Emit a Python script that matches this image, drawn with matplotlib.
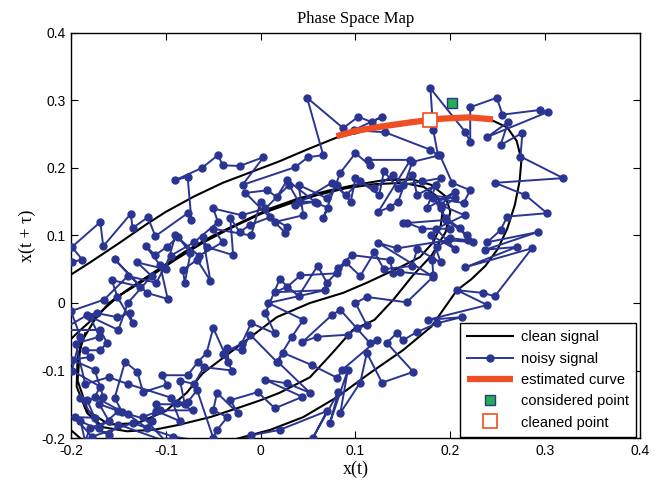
import numpy as np
import matplotlib
matplotlib.use("Agg")
import matplotlib.pyplot as plt

# clean signal (three turns, parts outside the box are clipped by the axes)
clean_x = [-0.215, -0.200, -0.180, -0.150, -0.120, -0.100, -0.070, -0.040, -0.010, 0.020, 0.050, 0.080,
           0.110, 0.140, 0.170, 0.200, 0.225, 0.245, 0.260, 0.270, 0.275, 0.273, 0.268, 0.260, 0.250,
           0.237, 0.222, 0.207, 0.195, 0.180, 0.150, 0.115, 0.081, 0.045, 0.010, -0.030, -0.060,
           -0.100, -0.170, -0.215, -0.220, -0.205,
           -0.190, -0.166, -0.150, -0.120, -0.090, -0.060, -0.030, 0.000, 0.030, 0.060, 0.090, 0.120,
           0.150, 0.172, 0.186, 0.192, 0.190, 0.182, 0.168, 0.147, 0.112, 0.087, 0.052, 0.017, -0.029,
           -0.061, -0.078, -0.100, -0.130, -0.160, -0.182, -0.193, -0.190, -0.175, -0.160,
           -0.140, -0.110, -0.080, -0.050, -0.020, 0.010, 0.040, 0.070, 0.100, 0.130, 0.160, 0.180,
           0.195, 0.200, 0.195, 0.180, 0.160, 0.140, 0.120, 0.097, 0.075, 0.052, 0.020, 0.000, -0.025,
           -0.053, -0.088, -0.113, -0.141, -0.166, -0.183, -0.194, -0.193, -0.185]
clean_y = [0.030, 0.042, 0.060, 0.088, 0.117, 0.135, 0.158, 0.178, 0.194, 0.210, 0.228, 0.245,
           0.255, 0.262, 0.268, 0.272, 0.273, 0.270, 0.260, 0.240, 0.212, 0.180, 0.145, 0.110, 0.080,
           0.055, 0.035, 0.019, -0.005, -0.035, -0.070, -0.104, -0.139, -0.169, -0.188, -0.203, -0.215,
           -0.230, -0.225, -0.170, -0.080, -0.060,
           -0.040, -0.010, 0.010, 0.036, 0.064, 0.090, 0.112, 0.132, 0.147, 0.160, 0.170, 0.176,
           0.178, 0.172, 0.158, 0.138, 0.115, 0.090, 0.068, 0.053, 0.030, 0.015, 0.000, -0.021, -0.070,
           -0.104, -0.133, -0.160, -0.178, -0.180, -0.160, -0.115, -0.060, -0.025, 0.000,
           0.020, 0.048, 0.076, 0.100, 0.120, 0.140, 0.155, 0.166, 0.175, 0.182, 0.183, 0.175,
           0.158, 0.135, 0.105, 0.070, 0.040, 0.005, -0.025, -0.040, -0.075, -0.110, -0.133, -0.144, -0.156,
           -0.169, -0.181, -0.188, -0.190, -0.184, -0.163, -0.124, -0.080, -0.045]

# noisy signal, read point by point
noisy_x = [-0.199, -0.188, -0.199, -0.169, -0.166, -0.137, -0.135, -0.119, -0.111, -0.077, -0.073, -0.077,
           -0.090, -0.062, -0.045, -0.040, -0.022, 0.003, -0.019, 0.036, 0.050, 0.066, 0.049, 0.087,
           0.103, 0.117, 0.128, 0.098, 0.131, 0.179, 0.187, 0.182, 0.179, 0.216, 0.221, 0.221, 0.249,
           0.255, 0.295, 0.303, 0.239, 0.261, 0.253, 0.276, 0.274, 0.319, 0.247, 0.279, 0.302, 0.260,
           0.253, 0.239, 0.292, 0.237, 0.270, 0.216, 0.286, 0.247, 0.234, 0.207, 0.239, 0.176, 0.212,
           0.186, 0.165, 0.150, 0.144, 0.133, 0.161, 0.128, 0.112, 0.105, 0.084, 0.092, 0.073, 0.082,
           0.055, 0.070, 0.020, -0.010, -0.030,
           -0.092, -0.135, -0.178, -0.196, -0.175, -0.183, -0.166, -0.175, -0.199, -0.180, -0.185,
           -0.169, -0.162, -0.169, -0.210, -0.183, -0.173, -0.151, -0.138, -0.135, -0.151, -0.157,
           -0.127, -0.154, -0.120, -0.098, -0.106, -0.121, -0.111, -0.099, -0.087, -0.074, -0.080,
           -0.082, -0.067, -0.053, -0.061, -0.057, -0.029, -0.032, -0.022, -0.011, 0.010, 0.028, 0.026,
           -0.016, 0.007, 0.017, 0.028, 0.059, 0.071, 0.066, 0.084, 0.100, 0.115, 0.113, 0.158, 0.124,
           0.136, 0.145, 0.160, 0.189, 0.202, 0.221, 0.214, 0.182, 0.195, 0.210, 0.219, 0.200, 0.186,
           0.181, 0.182, 0.147, 0.140, 0.136, 0.096, 0.082, 0.081, 0.042, 0.028, 0.015, 0.068, 0.008,
           0.045, 0.033, 0.017, -0.011, -0.020, -0.035, -0.034, -0.050, -0.057, -0.066, -0.077, -0.104,
           -0.099, -0.124, -0.130, -0.143, -0.154, -0.146, -0.175, -0.169, -0.199,
           -0.190, -0.200, -0.165, -0.140, -0.110, -0.095, -0.070, -0.045, -0.050, -0.020, 0.005, 0.030,
           0.040, 0.057, 0.036, 0.075, 0.090, 0.105, 0.120, 0.140, 0.150, 0.170, 0.190, 0.175, 0.205,
           0.190, 0.200, 0.170, 0.154, 0.150, 0.195, 0.218, 0.224, 0.198, 0.144, 0.124, 0.182, 0.154,
           0.112, 0.100, 0.112, 0.102, 0.092, 0.059, 0.044, 0.075, 0.084, 0.115, 0.123, 0.086, 0.081,
           0.054, 0.024, 0.018, 0.052, 0.028, 0.005, 0.044, 0.015, -0.003, -0.032, -0.024, -0.046,
           -0.050, -0.035, -0.046, -0.050, -0.067, -0.077, -0.088, -0.071, -0.106, -0.124, -0.100,
           -0.150, -0.160, -0.190, -0.185]
noisy_y = [0.061, 0.064, 0.083, 0.120, 0.084, 0.132, 0.111, 0.127, 0.099, 0.133, 0.123, 0.187,
           0.182, 0.200, 0.219, 0.204, 0.203, 0.216, 0.175, 0.201, 0.216, 0.219, 0.304, 0.259,
           0.276, 0.268, 0.276, 0.256, 0.253, 0.227, 0.219, 0.256, 0.318, 0.253, 0.239, 0.290, 0.304,
           0.279, 0.286, 0.283, 0.246, 0.268, 0.234, 0.252, 0.217, 0.185, 0.178, 0.160, 0.133, 0.128,
           0.108, 0.090, 0.105, 0.079, 0.083, 0.053, 0.081, 0.010, 0.015, 0.019, -0.003, -0.025, -0.021,
           -0.030, -0.043, -0.055, -0.044, -0.059, -0.102, -0.118, -0.074, -0.118, -0.163, -0.099, -0.178, -0.132,
           -0.200, -0.160, -0.188, -0.196, -0.212,
           -0.198, -0.178, -0.198, -0.169, -0.170, -0.144, -0.139, -0.099, -0.084, -0.080, -0.070,
           -0.070, -0.059, -0.040, -0.040, -0.018, -0.015, -0.021, -0.015, -0.030, 0.009, 0.034,
           0.024, 0.065, 0.015, 0.006, 0.056, 0.084, 0.071, 0.083, 0.098, 0.074, 0.030,
           0.049, 0.064, 0.033, 0.098, 0.083, 0.071, 0.126, 0.105, 0.116, 0.127, 0.113, 0.104,
           0.163, 0.167, 0.157, 0.182, 0.148, 0.141, 0.126, 0.193, 0.222, 0.204, 0.212, 0.212, 0.135,
           0.142, 0.150, 0.209, 0.219, 0.178, 0.167, 0.148, 0.156, 0.126, 0.111, 0.093, 0.096, 0.083,
           0.064, 0.041, 0.046, 0.044, 0.064, 0.071, 0.052, 0.044, 0.041, 0.024, 0.016, 0.019, 0.000,
           -0.025, -0.050, -0.087, -0.047, -0.070, -0.067, -0.087, -0.037, -0.074, -0.087, -0.107, -0.107,
           -0.121, -0.132, -0.102, -0.087, -0.141, -0.161, -0.139, -0.124, -0.100,
           -0.050, -0.012, 0.005, 0.040, 0.030, 0.070, 0.090, 0.120, 0.140, 0.130, 0.140, 0.175,
           0.150, 0.150, 0.145, 0.178, 0.160, 0.180, 0.170, 0.190, 0.175, 0.180, 0.185, 0.160, 0.155,
           0.140, 0.110, 0.110, 0.119, 0.118, 0.123, 0.101, 0.090, 0.093, 0.081, 0.089, 0.039, 0.001,
           0.009, 0.000, -0.033, -0.037, -0.047, -0.050, -0.058, -0.018, -0.010, -0.059, -0.055, -0.099, -0.111,
           -0.092, -0.074, -0.087, -0.133, -0.119, -0.114, -0.139, -0.156, -0.132, -0.144, -0.163, -0.133,
           -0.159, -0.169, -0.188, -0.200, -0.129, -0.147, -0.148, -0.159, -0.159, -0.169, -0.205,
           -0.180, -0.195, -0.175, -0.205]

# last turn of the noisy signal
noisy_tail_x = [-0.180, -0.160, -0.170, -0.140, -0.120, -0.110, -0.085, -0.095, -0.140, -0.160,
                -0.185, -0.195, -0.170, -0.180, -0.150, -0.140, -0.115, -0.130, -0.100, -0.090,
                -0.065, -0.040, -0.050, -0.010, 0.000, 0.015, 0.045, 0.040, 0.070, 0.080,
                0.095, 0.100, 0.125, 0.130, 0.145, 0.160, 0.165, 0.185, 0.175, 0.205,
                0.190, 0.215, 0.185, 0.205, 0.180, 0.190, 0.165, 0.160, 0.130, 0.120,
                0.105, 0.090, 0.070, 0.060, 0.040, 0.020, 0.005, 0.015, -0.010, -0.020,
                -0.040, -0.030, -0.060, -0.070, -0.085, -0.080, -0.110, -0.115, -0.150, -0.170,
                -0.190]
noisy_tail_y = [-0.185, -0.175, -0.150, -0.165, -0.185, -0.160, -0.175, -0.140, -0.120, -0.110,
                -0.120, -0.060, -0.050, -0.020, -0.040, 0.000, 0.040, 0.060, 0.050, 0.100,
                0.070, 0.090, 0.110, 0.100, 0.150, 0.120, 0.130, 0.175, 0.155, 0.175,
                0.150, 0.185, 0.160, 0.195, 0.170, 0.190, 0.160, 0.175, 0.140, 0.165,
                0.145, 0.130, 0.110, 0.080, 0.100, 0.060, 0.080, 0.055, 0.050, 0.075,
                0.040, 0.060, 0.030, 0.055, 0.010, 0.035, -0.015, -0.045, -0.030, -0.060,
                -0.075, -0.100, -0.095, -0.120, -0.115, -0.150, -0.150, -0.175, -0.160, -0.185,
                -0.140]

est_x = [0.080, 0.100, 0.130, 0.160, 0.190, 0.220, 0.245]
est_y = [0.247, 0.255, 0.262, 0.268, 0.273, 0.275, 0.272]

considered = (0.2015, 0.296)
cleaned = (0.179, 0.271)

blue = '#2A3592'
red = '#F04E23'

plt.rcParams['font.family'] = ['Liberation Sans', 'DejaVu Sans']
plt.rcParams['xtick.direction'] = 'in'
plt.rcParams['ytick.direction'] = 'in'
plt.rcParams['xtick.top'] = True
plt.rcParams['ytick.right'] = True

fig = plt.figure(figsize=(6.67, 4.9), dpi=100)
ax = fig.add_axes([0.1064, 0.1061, 0.8531, 0.8266])

nx = np.concatenate([noisy_x, noisy_tail_x])
ny = np.concatenate([noisy_y, noisy_tail_y])

ax.plot(clean_x, clean_y, color='black', lw=1.5, label='clean signal', zorder=2)
ax.plot(nx, ny, color=blue, lw=1.4, marker='o', ms=5, label='noisy signal', zorder=3)
ax.plot(est_x, est_y, color=red, lw=4.5, solid_capstyle='butt', label='estimated curve', zorder=4)
ax.plot(*considered, ls='none', marker='s', ms=7, mfc='#21B04B', mec=blue, mew=1,
        label='considered point', zorder=5)
ax.plot(*cleaned, ls='none', marker='s', ms=10, mfc='white', mec=red, mew=1.2,
        label='cleaned point', zorder=5)

ax.set_xlim(-0.2, 0.4)
ax.set_ylim(-0.2, 0.4)
ticks = [-0.2, -0.1, 0, 0.1, 0.2, 0.3, 0.4]
tick_labels = ['-0.2', '-0.1', '0', '0.1', '0.2', '0.3', '0.4']
ax.set_xticks(ticks)
ax.set_xticklabels(tick_labels)
ax.set_yticks(ticks)
ax.set_yticklabels(tick_labels)
ax.tick_params(labelsize=10, length=5, width=0.8, pad=4)
for s in ax.spines.values():
    s.set_linewidth(1.0)

ax.set_title('Phase Space Map', family='Liberation Serif', fontsize=12, pad=7)
ax.set_xlabel('x(t)', family='Liberation Serif', fontsize=13, labelpad=2)
ax.set_ylabel('x(t + τ)', family='Liberation Serif', fontsize=13, labelpad=4)

leg = ax.legend(loc='lower right', bbox_to_anchor=(0.993, 0.003), fontsize=10.5, numpoints=1,
                handlelength=3.1, labelspacing=0.5, borderaxespad=0, fancybox=False,
                framealpha=1, edgecolor='black', borderpad=0.5, handletextpad=0.55)
leg.get_frame().set_linewidth(1.0)

plt.savefig('out.png', dpi=100)
